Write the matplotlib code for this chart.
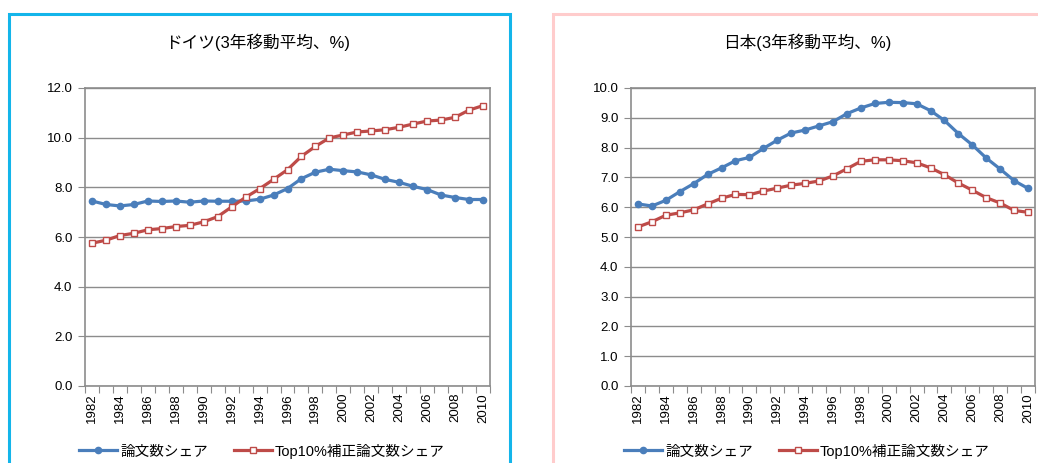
import matplotlib
matplotlib.use("Agg")
import matplotlib.pyplot as plt
from matplotlib.patches import Rectangle

plt.rcParams["font.family"] = ["Liberation Sans", "Noto Sans CJK JP", "DejaVu Sans"]

years = list(range(1982, 2011))
year_labels = [str(y) if y % 2 == 0 else "" for y in years]

de_papers = [7.45, 7.31, 7.25, 7.31, 7.45, 7.43, 7.45, 7.40, 7.45, 7.44,
             7.44, 7.45, 7.52, 7.69, 7.95, 8.35, 8.61, 8.73, 8.67, 8.62,
             8.50, 8.32, 8.20, 8.04, 7.91, 7.69, 7.59, 7.51, 7.51]
de_top10 = [5.75, 5.87, 6.06, 6.15, 6.29, 6.34, 6.42, 6.47, 6.61, 6.82,
            7.21, 7.60, 7.94, 8.32, 8.71, 9.25, 9.65, 9.99, 10.11, 10.23,
            10.27, 10.32, 10.42, 10.55, 10.67, 10.71, 10.82, 11.11, 11.29]
jp_papers = [6.11, 6.04, 6.23, 6.52, 6.79, 7.10, 7.32, 7.56, 7.67, 7.97,
             8.25, 8.49, 8.59, 8.73, 8.87, 9.14, 9.33, 9.48, 9.52, 9.51,
             9.47, 9.24, 8.91, 8.47, 8.09, 7.65, 7.28, 6.89, 6.63]
jp_top10 = [5.34, 5.51, 5.73, 5.81, 5.91, 6.11, 6.30, 6.43, 6.42, 6.54,
            6.64, 6.74, 6.80, 6.88, 7.05, 7.29, 7.54, 7.59, 7.59, 7.56,
            7.49, 7.32, 7.09, 6.81, 6.57, 6.32, 6.14, 5.89, 5.83]

series_names = ["論文数シェア", "Top10%補正論文数シェア"]
BLUE = "#4A7EBB"
RED = "#BE4B48"
GRID = "#8C8C8C"

W, H = 1038, 463
fig = plt.figure(figsize=(W / 100, H / 100), dpi=100)


def px_box(x0, y0, x1, y1):
    return [x0 / W, 1 - y1 / H, (x1 - x0) / W, (y1 - y0) / H]


def draw_panel(rect, title, papers, top10, ymax, ystep, title_x, legend_x):
    ax = fig.add_axes(rect)
    x = list(range(len(years)))
    ax.plot(x, papers, color=BLUE, lw=2.3, marker="o", ms=4.5,
            mfc=BLUE, mec=BLUE, label=series_names[0], zorder=3)
    ax.plot(x, top10, color=RED, lw=2.3, marker="s", ms=4.5,
            mfc="white", mec=RED, mew=1.0, label=series_names[1], zorder=3)
    ax.set_xlim(-0.5, len(years) - 0.5)
    ax.set_ylim(0, ymax)
    yt = [i * ystep for i in range(int(round(ymax / ystep)) + 1)]
    ax.set_yticks(yt)
    ax.set_yticklabels([f"{v:.1f}" for v in yt], fontsize=9.5)
    ax.set_xticks([i - 0.5 for i in range(len(years) + 1)], minor=False)
    ax.set_xticklabels([])
    ax.set_xticks(x, minor=True)
    ax.set_xticklabels(year_labels, minor=True, rotation=90, fontsize=9.5)
    ax.tick_params(axis="x", which="minor", length=0, pad=5)
    ax.tick_params(axis="x", which="major", length=5, color=GRID, direction="out")
    ax.tick_params(axis="y", length=5, color=GRID, direction="out", pad=4)
    ax.yaxis.grid(True, color=GRID, lw=1.0)
    ax.set_axisbelow(True)
    for s in ax.spines.values():
        s.set_color(GRID)
        s.set_linewidth(1.2)
    fig.text(title_x / W, 1 - 42 / H, title, ha="center", va="center", fontsize=12)
    fig.legend(*ax.get_legend_handles_labels(), loc="center",
               bbox_to_anchor=(legend_x / W, 1 - 451 / H), ncol=2, frameon=False,
               fontsize=10.5, handlelength=2.6, columnspacing=1.8, handletextpad=0.2)
    return ax


fig.patches.append(Rectangle((9 / W, -0.05), 501 / W, 1.05 - 14 / H,
                             transform=fig.transFigure, fill=False,
                             edgecolor="#13B5EA", lw=2.2))
fig.patches.append(Rectangle((553 / W, -0.05), 0.6, 1.05 - 14 / H,
                             transform=fig.transFigure, fill=False,
                             edgecolor="#FFCCCC", lw=2.2))

draw_panel(px_box(85, 88, 490, 386), "ドイツ(3年移動平均、%)",
           de_papers, de_top10, 12.0, 2.0, 258, 262)
draw_panel(px_box(631, 88, 1035, 386), "日本(3年移動平均、%)",
           jp_papers, jp_top10, 10.0, 1.0, 807, 807)

fig.savefig("out.png", dpi=100)
